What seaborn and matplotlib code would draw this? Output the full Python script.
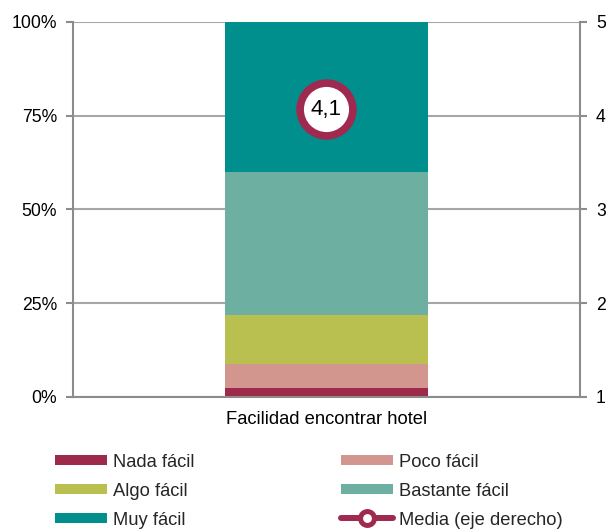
import matplotlib
matplotlib.use("Agg")
import matplotlib.pyplot as plt
from matplotlib.lines import Line2D
import seaborn as sns
import pandas as pd
import numpy as np

category = "Facilidad encontrar hotel"
levels = ["Nada fácil", "Poco fácil", "Algo fácil", "Bastante fácil", "Muy fácil"]
shares = [2.5, 6.4, 13.0, 38.1, 40.0]
colors = ["#9D2A4B", "#D3968F", "#B9C04F", "#6DAFA1", "#008F8C"]
mean_value = 4.07
mean_label = "Media (eje derecho)"
left_ticks = [0, 25, 50, 75, 100]
right_ticks = [1, 2, 3, 4, 5]

sns.set_style("white")
plt.rcParams["font.family"] = ["Liberation Sans", "DejaVu Sans"]

fig = plt.figure(figsize=(6.06, 5.30), dpi=100)
ax = fig.add_axes([0.1205, 0.251, 0.8365, 0.7075])

cum = np.cumsum(shares)
df = pd.DataFrame({"cat": [category] * len(levels), "level": levels, "cum": cum})
# draw from top cumulative down so lower segments overlay
for i in range(len(levels) - 1, -1, -1):
    sns.barplot(data=df.iloc[[i]], x="cat", y="cum", color=colors[i], width=0.4,
                saturation=1, ax=ax, zorder=2, linewidth=0, edgecolor="none")

ax.set_ylim(0, 100)
ax.set_xlim(-0.5, 0.5)
ax.set_yticks(left_ticks)
ax.set_yticklabels([f"{t}%" for t in left_ticks], fontsize=12.7)
ax.set_xlabel("")
ax.set_ylabel("")
ax.tick_params(axis="x", length=0, labelsize=13.2, pad=10, colors="#000000")
ax.tick_params(axis="y", length=5, width=1.5, color="#8C8C8C", direction="out", pad=6.5,
               labelcolor="#000000")
ax.yaxis.grid(True, color="#A6A6A6", linewidth=1.5, zorder=0)
ax.set_axisbelow(True)
for s in ["top", "right"]:
    ax.spines[s].set_visible(False)
for s in ["left", "bottom"]:
    ax.spines[s].set_color("#8C8C8C")
    ax.spines[s].set_linewidth(1.5)

ax2 = ax.twinx()
ax2.set_ylim(1, 5)
ax2.set_yticks(right_ticks)
ax2.set_yticklabels([str(t) for t in right_ticks], fontsize=12.7)
ax2.tick_params(axis="y", length=5, width=1.5, color="#8C8C8C", direction="out", pad=6.5,
                labelcolor="#000000")
for s in ["top", "left", "bottom"]:
    ax2.spines[s].set_visible(False)
ax2.spines["right"].set_color("#8C8C8C")
ax2.spines["right"].set_linewidth(1.5)

mark_color = "#A0294F"
ax2.plot([0], [mean_value], marker="o", markersize=38, markerfacecolor="white",
         markeredgecolor=mark_color, markeredgewidth=5.5, linestyle="none", zorder=5)
ax2.text(0, mean_value, f"{mean_value:.1f}".replace(".", ","), ha="center", va="center",
         fontsize=16, color="#000000", zorder=6)

handles = {lv: Line2D([0], [0], color=c, linewidth=7.2, solid_capstyle="butt")
           for lv, c in zip(levels, colors)}
handles[mean_label] = Line2D([0], [0], color=mark_color, linewidth=4.3, marker="o",
                             markersize=10, markerfacecolor="white",
                             markeredgecolor=mark_color, markeredgewidth=3.6,
                             solid_capstyle="round")
order = ["Nada fácil", "Algo fácil", "Muy fácil", "Poco fácil", "Bastante fácil", mean_label]
fig.legend([handles[k] for k in order], order, ncol=2, loc="upper left",
           bbox_to_anchor=(0.0787, 0.158), frameon=False, fontsize=13.2,
           handlelength=2.84, handletextpad=0.33, columnspacing=8.0,
           labelspacing=0.66, borderaxespad=0)

fig.savefig("out.png", dpi=100)
